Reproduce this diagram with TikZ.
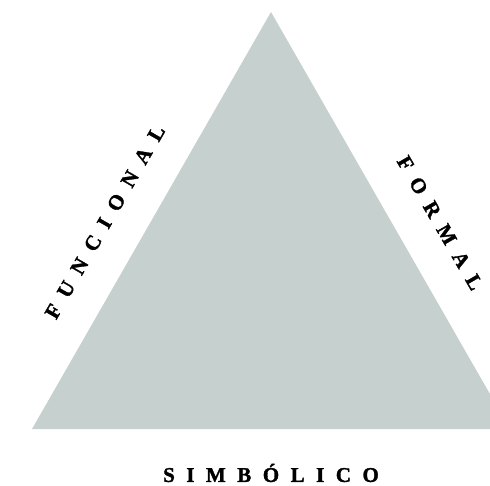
\documentclass[tikz,border=0pt]{standalone}
\usepackage{fontspec}
\setmainfont{Liberation Serif}
\newfontfamily\labelfont[FakeBold=1.5]{Liberation Serif Bold}
\definecolor{triangle}{RGB}{198,208,206}
\newcommand{\gapx}{\hspace{11.5pt}}

\begin{document}
\begin{tikzpicture}[x=1pt,y=-1pt]
\tikzset{side label/.style={font=\fontsize{21}{24}\labelfont, inner sep=0pt}}
\useasboundingbox (0,0) rectangle (490,485);
\clip (0,0) rectangle (490,485);
\fill[triangle] (271,12) -- (32,429) -- (510,429) -- cycle;
\node[side label, rotate=60] (funcional) at (105,222) {F\gapx U\gapx N\gapx C\gapx I\gapx O\gapx N\gapx A\gapx L};
\node[side label, rotate=-60] (formal) at (440,223) {F\gapx O\gapx R\gapx M\gapx A\gapx L};
\node[side label] (simbolico) at (271,473) {S\gapx I\gapx M\gapx B\gapx Ó\gapx L\gapx I\gapx C\gapx O};
\end{tikzpicture}
\end{document}
